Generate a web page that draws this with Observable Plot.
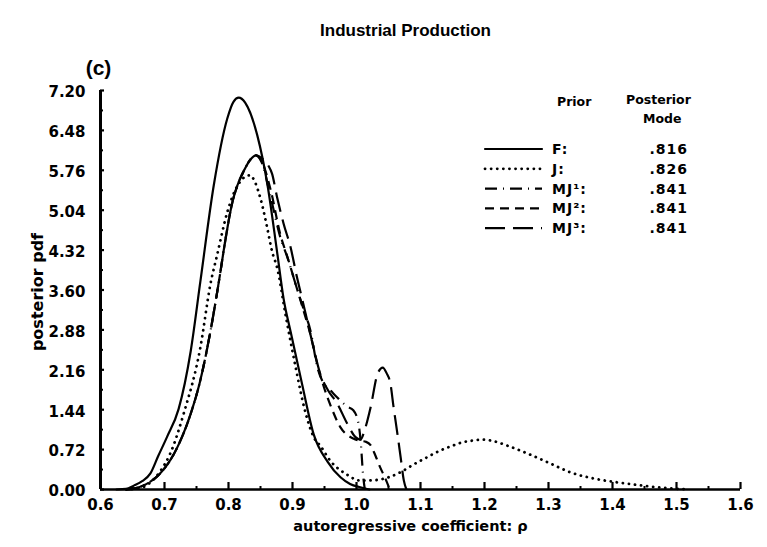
<!DOCTYPE html>
<html><head><meta charset="utf-8">
<script src="https://cdn.jsdelivr.net/npm/d3@7"></script>
<script src="https://cdn.jsdelivr.net/npm/@observablehq/plot@0.6"></script>
<style>
body{margin:0;background:#fff;}
#chart{position:relative;width:767px;height:547px;overflow:hidden;}
#chart svg{position:absolute;left:0;top:0;}
</style></head><body><div id="chart"></div>
<script>
// ---- data ----
const fRho = [0.625,0.64,0.652,0.665,0.678,0.69,0.704,0.722,0.741,0.756,0.777,0.798,0.808,0.816,0.826,0.845,0.861,0.876,0.886,0.897,0.915,0.933,0.955,0.975,0.99,1.006,1.02];
const fPdf = [0,0.01,0.07,0.15,0.29,0.6,0.95,1.45,2.5,3.75,5.49,6.69,7.0,7.07,6.98,6.39,5.49,4.28,3.45,2.85,1.9,1.0,0.5,0.22,0.1,0.04,0];

const jRho = [0.64,0.66,0.675,0.694,0.709,0.73,0.756,0.772,0.782,0.798,0.815,0.833,0.85,0.86,0.868,0.876,0.89,0.905,0.92,0.933,0.944,0.959,0.985,1.006,1.03,1.05,1.07,1.089,1.11,1.13,1.15,1.165,1.18,1.195,1.215,1.236,1.267,1.303,1.334,1.37,1.407,1.44,1.48,1.52];
const jPdf = [0,0.02,0.1,0.34,0.65,1.37,2.56,3.72,4.22,5.0,5.5,5.67,5.25,4.75,4.3,4.0,3.1,2.2,1.4,0.95,0.78,0.52,0.27,0.16,0.17,0.22,0.32,0.45,0.58,0.7,0.79,0.85,0.88,0.9,0.87,0.79,0.65,0.47,0.31,0.2,0.13,0.08,0.03,0];

const mj1Rho = [0.64,0.657,0.675,0.694,0.72,0.741,0.756,0.772,0.78,0.787,0.793,0.806,0.814,0.824,0.834,0.843,0.852,0.866,0.881,0.892,0.905,0.918,0.928,0.939,0.949,0.96,0.97,0.985,0.995,1.003,1.007,1.01,1.013];
const mj1Pdf = [0,0.03,0.12,0.3,0.76,1.37,1.97,2.87,3.4,3.9,4.35,5.18,5.49,5.75,5.95,6.03,5.9,5.27,4.55,4.19,3.7,3.23,2.87,2.2,1.91,1.78,1.66,1.5,1.43,1.2,0.8,0.3,0];

const mj2Rho = [0.64,0.657,0.675,0.694,0.72,0.741,0.756,0.772,0.78,0.787,0.793,0.806,0.814,0.824,0.834,0.843,0.852,0.866,0.881,0.892,0.905,0.918,0.928,0.939,0.949,0.96,0.975,0.995,1.005,1.015,1.022,1.03,1.037,1.045,1.052];
const mj2Pdf = [0,0.03,0.12,0.3,0.76,1.37,1.97,2.87,3.4,3.9,4.35,5.18,5.49,5.75,5.95,6.03,5.92,5.4,4.6,4.2,3.7,3.2,2.8,2.25,1.85,1.5,1.12,0.92,0.88,0.86,0.8,0.6,0.4,0.2,0];

const mj3Rho = [0.64,0.657,0.675,0.694,0.72,0.741,0.756,0.772,0.78,0.787,0.793,0.806,0.814,0.824,0.834,0.843,0.852,0.862,0.868,0.876,0.886,0.897,0.907,0.913,0.923,0.933,0.943,0.955,0.97,0.985,0.998,1.006,1.014,1.022,1.033,1.041,1.047,1.053,1.058,1.064,1.069,1.074,1.078];
const mj3Pdf = [0,0.03,0.12,0.3,0.76,1.37,1.97,2.87,3.4,3.9,4.35,5.18,5.49,5.75,5.95,6.03,5.98,5.85,5.7,5.27,4.8,4.37,3.83,3.54,3.05,2.55,2.1,1.8,1.55,1.2,0.95,0.9,1.12,1.48,2.09,2.2,2.1,1.91,1.48,1.0,0.58,0.16,0];

const priors = ["F:", "J:", "MJ¹:", "MJ²:", "MJ³:"];
const modes = [".816", ".826", ".841", ".841", ".841"];

const xTickVals = [0.6,0.7,0.8,0.9,1.0,1.1,1.2,1.3,1.4,1.5,1.6];
const xTickLabels = ["0.6","0.7","0.8","0.9","1.0","1.1","1.2","1.3","1.4","1.5","1.6"];
const xMinorVals = [0.65,0.75,0.85,0.95,1.05,1.15,1.25,1.35,1.45,1.55];
const yTickVals = [0,0.72,1.44,2.16,2.88,3.60,4.32,5.04,5.76,6.48,7.20];
const yTickLabels = ["0.00","0.72","1.44","2.16","2.88","3.60","4.32","5.04","5.76","6.48","7.20"];
const yMinorVals = [0.36,1.08,1.80,2.52,3.24,3.96,4.68,5.40,6.12,6.84];

const titleText = "Industrial Production";
const panelText = "(c)";
const xLabelText = "autoregressive coefficient: ρ";
const yLabelText = "posterior pdf";

// ---- build tables ----
const toRows = (r, p) => r.map((x, i) => ({rho: x, pdf: p[i]}));
const F = toRows(fRho, fPdf), J = toRows(jRho, jPdf);
const MJ1 = toRows(mj1Rho, mj1Pdf), MJ2 = toRows(mj2Rho, mj2Pdf), MJ3 = toRows(mj3Rho, mj3Pdf);

const FONT = "'DejaVu Sans', 'Liberation Sans', Arial, sans-serif";
const FONT2 = "'Liberation Sans', Arial, sans-serif";
const styles = [
  {dash: null, cap: "round", w: 2.2},
  {dash: "0.1,6", cap: "round", w: 2.8},
  {dash: "12,6,1,6", cap: "butt", w: 2.2},
  {dash: "9,6", cap: "butt", w: 2.2},
  {dash: "20,8", cap: "butt", w: 2.2}
];
const series = [F, J, MJ1, MJ2, MJ3];

const lineMarks = series.map((d, i) => Plot.line(d, {
  x: "rho", y: "pdf", stroke: "black", strokeWidth: styles[i].w,
  strokeDasharray: styles[i].dash, strokeLinecap: styles[i].cap, curve: "monotone-x"
}));

const chart = Plot.plot({
  width: 767, height: 547,
  marginLeft: 100, marginRight: 27, marginTop: 90, marginBottom: 58,
  x: {domain: [0.6, 1.6], axis: null},
  y: {domain: [0, 7.2], axis: null},
  style: {fontFamily: FONT, background: "white", color: "black", overflow: "visible"},
  marks: [
    ...lineMarks,
    // axes
    Plot.ruleX(xMinorVals, {x: d => d, y1: 0, y2: 0, insetTop: -3, strokeWidth: 2}),
    Plot.ruleX(xTickVals, {x: d => d, y1: 0, y2: 0, insetTop: -7, strokeWidth: 2.2}),
    Plot.ruleY(yMinorVals, {y: d => d, x1: 0.6, x2: 0.6, insetRight: -3, strokeWidth: 2}),
    Plot.ruleY(yTickVals, {y: d => d, x1: 0.6, x2: 0.6, insetRight: -4, strokeWidth: 2.2}),
    Plot.ruleX([0.6], {y1: 0, y2: 7.2, strokeWidth: 3}),
    Plot.ruleY([0], {x1: 0.6, x2: 1.6, strokeWidth: 2.5}),
    Plot.text(xTickVals, {x: d => d, y: 0, text: (d, i) => xTickLabels[i], dy: 16,
      fontSize: 15, fontWeight: "bold", textAnchor: "middle", lineAnchor: "middle"}),
    Plot.text(yTickVals, {x: 0.6, y: d => d, text: (d, i) => yTickLabels[i], dx: -15, dy: 2,
      fontSize: 15, fontWeight: "bold", textAnchor: "end", lineAnchor: "middle"}),
    // titles
    Plot.text([titleText], {frameAnchor: "top", dx: -15, dy: -60, fontSize: 17, fontWeight: "bold",
      fontFamily: FONT2, textAnchor: "middle", lineAnchor: "middle"}),
    Plot.text([panelText], {frameAnchor: "top-left", dx: -2, dy: -22, fontSize: 21, fontWeight: "bold",
      fontFamily: FONT2, textAnchor: "middle", lineAnchor: "middle"}),
    Plot.text([xLabelText], {frameAnchor: "bottom", dx: -10, dy: 37, fontSize: 14.5, fontWeight: "bold",
      letterSpacing: 0.6, textAnchor: "middle", lineAnchor: "middle"}),
    Plot.text([yLabelText], {frameAnchor: "left", dx: -63, dy: 2, rotate: -90, fontSize: 16, fontWeight: "bold",
      textAnchor: "middle", lineAnchor: "middle"})
  ]
});
document.getElementById("chart").appendChild(chart);

// ---- legend overlay ----
const leg = d3.select("#chart").append("svg")
  .attr("width", 767).attr("height", 547)
  .style("pointer-events", "none")
  .attr("font-family", FONT).attr("font-weight", "bold");
leg.append("text").attr("x", 557).attr("y", 102).attr("dominant-baseline", "middle")
  .attr("font-size", 12.5).text("Prior");
leg.append("text").attr("x", 626).attr("y", 100).attr("dominant-baseline", "middle")
  .attr("font-size", 12.5).text("Posterior");
leg.append("text").attr("x", 643).attr("y", 119).attr("dominant-baseline", "middle")
  .attr("font-size", 12.5).text("Mode");
priors.forEach((p, i) => {
  const y = 149 + i * 19.8;
  leg.append("line").attr("x1", 485).attr("x2", 542).attr("y1", y).attr("y2", y)
    .attr("stroke", "black").attr("stroke-width", styles[i].w)
    .attr("stroke-dasharray", styles[i].dash).attr("stroke-linecap", styles[i].cap);
  leg.append("text").attr("x", 552).attr("y", y + 1).attr("dominant-baseline", "middle")
    .attr("font-size", 14).attr("letter-spacing", 1).text(p);
  leg.append("text").attr("x", 688).attr("y", y + 1).attr("dominant-baseline", "middle")
    .attr("text-anchor", "end").attr("font-size", 14).attr("letter-spacing", 1).text(modes[i]);
});
</script></body></html>
